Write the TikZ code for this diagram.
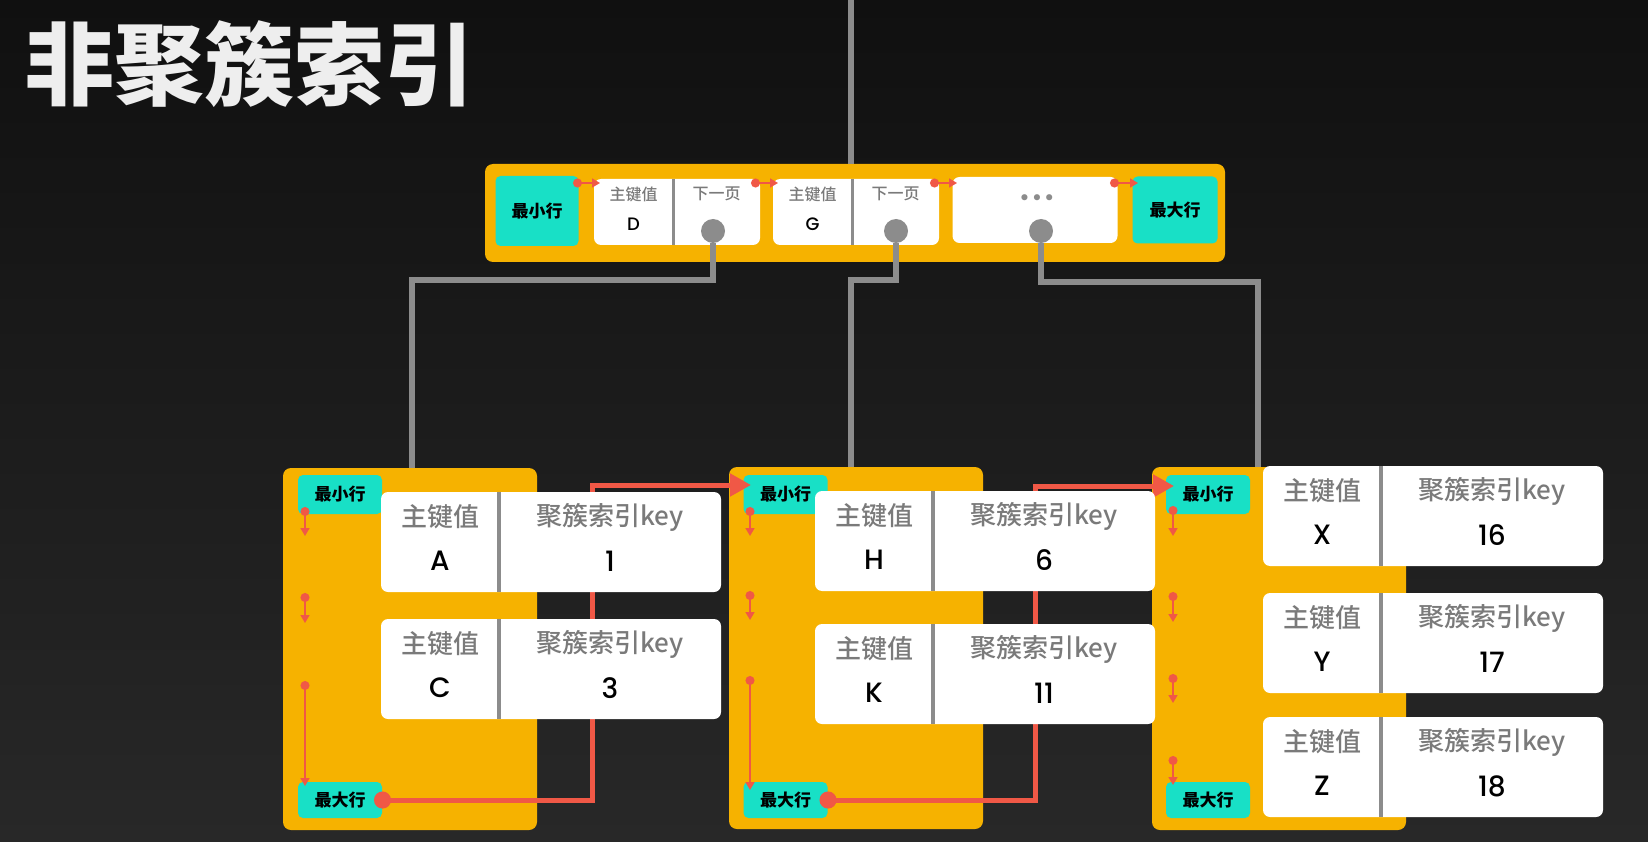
\documentclass[tikz,border=0pt]{standalone}
\usepackage{fontspec}
\setmainfont{Noto Sans CJK SC}
\IfFontExistsTF{Noto Sans CJK SC Medium}
  {\newfontfamily\labelfont{Noto Sans CJK SC Medium}}
  {\newfontfamily\labelfont{Noto Sans CJK SC}[FakeBold=1]}
\IfFontExistsTF{Poppins Medium}
  {\newfontfamily\latinfont{Poppins Medium}}
  {\newfontfamily\latinfont{Poppins}[FakeBold=1]}
\newfontfamily\symbfont{DejaVu Sans}
\IfFontExistsTF{Noto Sans CJK SC Black}
  {\newfontfamily\titlefont{Noto Sans CJK SC Black}}
  {\newfontfamily\titlefont{Noto Sans CJK SC}[FakeBold=4]}
\usetikzlibrary{arrows.meta,calc}

\definecolor{bgtop}{RGB}{16,16,16}
\definecolor{bgbot}{RGB}{40,40,40}
\definecolor{titlewhite}{RGB}{238,238,238}
\definecolor{pageorange}{RGB}{246,178,0}
\definecolor{endteal}{RGB}{24,224,198}
\definecolor{wiregray}{RGB}{140,140,140}
\definecolor{keygray}{RGB}{122,122,122}
\definecolor{linkred}{RGB}{240,88,70}

\tikzset{
  page/.style={fill=pageorange, rounded corners=8pt, inner sep=0pt, outer sep=0pt},
  endrow/.style={fill=endteal, rounded corners=5pt, inner sep=0pt, outer sep=0pt,
    text=black, font=\bfseries\fontsize{17}{20}\selectfont},
  cell/.style={fill=white, rounded corners=7pt, inner sep=0pt, outer sep=0pt},
  divider/.style={draw=wiregray, line width=3.5pt},
  knob/.style={circle, fill=wiregray, minimum size=24pt, inner sep=0pt},
  wire/.style={draw=wiregray, line width=6pt},
  link/.style={draw=linkred, line width=1.6pt,
    {Circle[length=9pt]}-{Triangle[length=8pt,width=9pt]}},
  chain/.style={draw=linkred, line width=5pt,
    {Circle[length=17pt]}-{Triangle[length=21pt,width=22pt]}},
  keylabel/.style={text=keygray, inner sep=0pt, font=\labelfont\fontsize{26}{30}\selectfont},
  keyvalue/.style={text=black, inner sep=0pt, font=\latinfont\fontsize{28}{32}\selectfont},
  smalllabel/.style={text=keygray, inner sep=0pt, font=\labelfont\fontsize{16}{19}\selectfont},
  smallvalue/.style={text=black, inner sep=0pt, font=\latinfont\fontsize{18}{21}\selectfont},
}

\begin{document}
\begin{tikzpicture}[x=1pt, y=-1pt]
  %–– Background ––
  \useasboundingbox (0,0) rectangle (1648,842);
  \shade[top color=bgtop, bottom color=bgbot] (0,0) rectangle (1648,842);

  %–– Title ––
  \node[text=titlewhite, inner sep=0pt, font=\titlefont\fontsize{90}{96}\selectfont]
    (title) at (249,64) {非聚簇索引};

  %–– Index page (top) ––
  \coordinate (feed) at (851,0);
  \node[page, minimum width=740pt, minimum height=98pt] (root) at (855,213) {};
  \draw[wire] (feed) -- (root.north -| feed);

  \node[endrow, minimum width=83pt, minimum height=70pt] (rootmin) at (537,211) {最小行};
  \node[endrow, minimum width=85pt, minimum height=67pt] (rootmax) at (1175,210) {最大行};

  % entry D
  \node[cell, minimum width=166pt, minimum height=66pt] (cellD) at (677,212) {};
  \draw[divider, line width=3pt] ($(cellD.north west)+(79,0)$) -- ($(cellD.south west)+(79,0)$);
  \node[smalllabel] (cellD-pk) at ($(cellD.north west)+(39.5,15)$) {主键值};
  \node[smallvalue] (cellD-pv) at ($(cellD.north west)+(39.5,45)$) {D};
  \node[smalllabel] (cellD-np) at ($(cellD.north west)+(122.5,15)$) {下一页};

  % entry G
  \node[cell, minimum width=166pt, minimum height=66pt] (cellG) at (856,212) {};
  \draw[divider, line width=3pt] ($(cellG.north west)+(79,0)$) -- ($(cellG.south west)+(79,0)$);
  \node[smalllabel] (cellG-pk) at ($(cellG.north west)+(39.5,15)$) {主键值};
  \node[smallvalue] (cellG-pv) at ($(cellG.north west)+(39.5,45)$) {G};
  \node[smalllabel] (cellG-np) at ($(cellG.north west)+(122.5,15)$) {下一页};

  % more entries
  \node[cell, minimum width=165pt, minimum height=66pt] (cellmore) at (1035,210) {};
  \node[text=wiregray, inner sep=0pt, font=\symbfont\fontsize{21}{24}\selectfont]
    (more) at (1037,200) {•••};

  \node[knob] (knobD) at (713,231) {};
  \node[knob] (knobG) at (896,231) {};
  \node[knob] (knobmore) at (1041,231) {};

  \foreach \a/\b [count=\i] in {573/600, 751/778, 930/957, 1110/1138} {
    \coordinate (from\i) at (\a,183);
    \coordinate (to\i) at (\b,183);
    \draw[link] (from\i) -- (to\i);
  }

  %–– Data pages (bottom) ––
  \node[page, minimum width=254pt, minimum height=362pt] (pageL) at (410,649) {};
  \node[page, minimum width=254pt, minimum height=362pt] (pageM) at (856,648) {};
  \node[page, minimum width=254pt, minimum height=363pt] (pageR) at (1279,648.5) {};

  %–– Wires from index to pages ––
  \coordinate (bendL) at (412,280);
  \coordinate (bendM) at (851,280);
  \coordinate (bendR) at (1258,282);
  \draw[wire] (knobD) |- (bendL) -- (pageL.north -| bendL);
  \draw[wire] (knobG) |- (bendM) -- (pageM.north -| bendM);
  \draw[wire] (knobmore) |- (bendR) -- (pageR.north -| bendR);

  %–– Min / max rows ––
  \node[endrow, minimum width=84pt, minimum height=39pt] (minL) at (340,494.5) {最小行};
  \node[endrow, minimum width=84pt, minimum height=36pt] (maxL) at (340,800) {最大行};
  \node[endrow, minimum width=84pt, minimum height=39pt] (minM) at (785.5,494.5) {最小行};
  \node[endrow, minimum width=84pt, minimum height=36pt] (maxM) at (785.5,800) {最大行};
  \node[endrow, minimum width=84pt, minimum height=39pt] (minR) at (1208,494.5) {最小行};
  \node[endrow, minimum width=84pt, minimum height=36pt] (maxR) at (1208,800) {最大行};

  % links inside pages
  \foreach \x/\a/\b [count=\i] in {305/507/536, 305/593/623, 305/681/786,
      750/507/536, 750/591/620, 750/676/790,
      1173/506/536, 1173/592/622, 1173/674/703, 1173/756/785} {
    \coordinate (tail\i) at (\x,\a);
    \coordinate (head\i) at (\x,\b);
    \draw[link] (tail\i) -- (head\i);
  }

  % page to page
  \coordinate (turnL) at (592,485);
  \coordinate (inM) at (751,485);
  \coordinate (turnM) at (1035,486);
  \coordinate (inR) at (1174,486);
  \draw[chain] ($(maxL.east)+(-8,0)$) -| (turnL) -- (inM);
  \draw[chain] ($(maxM.east)+(-8,0)$) -| (turnM) -- (inR);

  %–– Records ––
  \foreach \nm/\x/\y/\pk/\ck in {recA/381/492/A/1, recC/381/619/C/3,
      recH/815/491/H/6, recK/815/624/K/11,
      recX/1263/466/X/16, recY/1263/593/Y/17, recZ/1263/717/Z/18} {
    \node[cell, minimum width=340pt, minimum height=100pt, anchor=north west] (\nm) at (\x,\y) {};
    \draw[divider] ($(\nm.north west)+(118,0)$) -- ($(\nm.south west)+(118,0)$);
    \node[keylabel] (\nm-pk) at ($(\nm.north west)+(59,25)$) {主键值};
    \node[keyvalue] (\nm-pv) at ($(\nm.north west)+(59,69)$) {\pk};
    \node[keylabel] (\nm-ck) at ($(\nm.north west)+(229,25)$) {聚簇索引key};
    \node[keyvalue] (\nm-cv) at ($(\nm.north west)+(229,69)$) {\ck};
  }
\end{tikzpicture}
\end{document}
